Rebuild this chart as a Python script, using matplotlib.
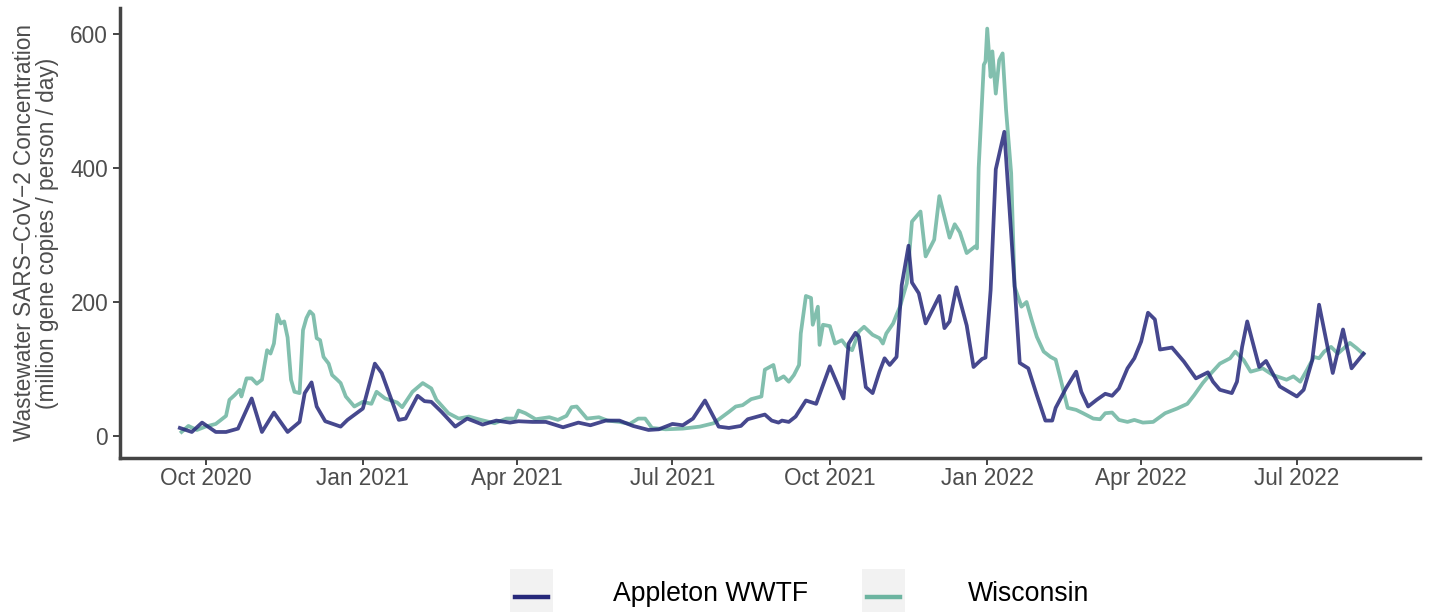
import matplotlib
matplotlib.use("Agg")
import matplotlib.pyplot as plt
import matplotlib.dates as mdates
from matplotlib.patches import Rectangle
from matplotlib.lines import Line2D
import pandas as pd

plt.rcParams['font.family'] = ['Liberation Sans', 'DejaVu Sans']

# Appleton WWTF sampled concentration (million gene copies / person / day)
appleton_dates = [
    "2020-09-16", "2020-09-23", "2020-09-29", "2020-10-07", "2020-10-13", "2020-10-20",
    "2020-10-28", "2020-11-03", "2020-11-10", "2020-11-18", "2020-11-25", "2020-11-28",
    "2020-12-02", "2020-12-05", "2020-12-10", "2020-12-19", "2020-12-23", "2021-01-01",
    "2021-01-08", "2021-01-12", "2021-01-22", "2021-01-26", "2021-02-02", "2021-02-06",
    "2021-02-10", "2021-02-16", "2021-02-24", "2021-03-03", "2021-03-12", "2021-03-20",
    "2021-03-28", "2021-04-02", "2021-04-10", "2021-04-18", "2021-04-28", "2021-05-07",
    "2021-05-14", "2021-05-23", "2021-05-31", "2021-06-08", "2021-06-17", "2021-06-23",
    "2021-07-01", "2021-07-07", "2021-07-13", "2021-07-20", "2021-07-28", "2021-08-03",
    "2021-08-10", "2021-08-14", "2021-08-24", "2021-08-28", "2021-09-01", "2021-09-03",
    "2021-09-07", "2021-09-11", "2021-09-17", "2021-09-23", "2021-10-01", "2021-10-09",
    "2021-10-12", "2021-10-16", "2021-10-18", "2021-10-22", "2021-10-26", "2021-10-30",
    "2021-11-02", "2021-11-05", "2021-11-09", "2021-11-12", "2021-11-16", "2021-11-18",
    "2021-11-22", "2021-11-26", "2021-12-04", "2021-12-07", "2021-12-10", "2021-12-14",
    "2021-12-20", "2021-12-24", "2021-12-29", "2021-12-31", "2022-01-03", "2022-01-06",
    "2022-01-11", "2022-01-15", "2022-01-20", "2022-01-25", "2022-01-30", "2022-02-04",
    "2022-02-08", "2022-02-10", "2022-02-16", "2022-02-22", "2022-02-25", "2022-03-01",
    "2022-03-06", "2022-03-11", "2022-03-15", "2022-03-19", "2022-03-24", "2022-03-28",
    "2022-04-01", "2022-04-05", "2022-04-09", "2022-04-12", "2022-04-19", "2022-04-26",
    "2022-05-03", "2022-05-10", "2022-05-13", "2022-05-17", "2022-05-24", "2022-05-27",
    "2022-05-30", "2022-06-02", "2022-06-09", "2022-06-13", "2022-06-21", "2022-07-01",
    "2022-07-05", "2022-07-10", "2022-07-14", "2022-07-22", "2022-07-28", "2022-08-02",
    "2022-08-09",
]
appleton_values = [
    12, 6, 20, 6, 6, 11,
    56, 6, 35, 6, 21, 64,
    80, 44, 22, 14, 24, 41,
    108, 94, 24, 26, 60, 52,
    51, 36, 14, 26, 17, 23,
    20, 22, 21, 21, 13, 20,
    16, 23, 23, 15, 9, 10,
    18, 16, 26, 53, 14, 12,
    15, 25, 32, 23, 20, 23,
    21, 29, 53, 48, 104, 56,
    138, 154, 148, 73, 64, 96,
    116, 106, 118, 225, 284, 229,
    213, 168, 209, 161, 171, 222,
    165, 103, 115, 117, 218, 398,
    454, 302, 109, 101, 61, 23,
    23, 42, 71, 96, 66, 44,
    54, 63, 60, 71, 101, 116,
    141, 184, 174, 129, 132, 111,
    86, 95, 81, 69, 64, 81,
    133, 171, 103, 112, 74, 59,
    69, 113, 196, 94, 159, 101,
    123,
]

# Statewide Wisconsin concentration
wisconsin_dates = [
    "2020-09-17", "2020-09-21", "2020-09-26", "2020-10-01", "2020-10-07", "2020-10-11",
    "2020-10-13", "2020-10-15", "2020-10-18", "2020-10-21", "2020-10-22", "2020-10-25",
    "2020-10-28", "2020-10-31", "2020-11-03", "2020-11-06", "2020-11-08", "2020-11-10",
    "2020-11-12", "2020-11-14", "2020-11-16", "2020-11-18", "2020-11-20", "2020-11-22",
    "2020-11-25", "2020-11-27", "2020-11-29", "2020-12-01", "2020-12-03", "2020-12-05",
    "2020-12-07", "2020-12-09", "2020-12-12", "2020-12-14", "2020-12-17", "2020-12-19",
    "2020-12-22", "2020-12-27", "2021-01-01", "2021-01-06", "2021-01-09", "2021-01-14",
    "2021-01-21", "2021-01-24", "2021-01-30", "2021-02-05", "2021-02-10", "2021-02-13",
    "2021-02-20", "2021-02-26", "2021-03-04", "2021-03-11", "2021-03-19", "2021-03-26",
    "2021-03-31", "2021-04-02", "2021-04-06", "2021-04-12", "2021-04-20", "2021-04-25",
    "2021-04-30", "2021-05-03", "2021-05-06", "2021-05-12", "2021-05-19", "2021-05-24",
    "2021-05-31", "2021-06-06", "2021-06-11", "2021-06-15", "2021-06-19", "2021-06-27",
    "2021-07-07", "2021-07-17", "2021-07-25", "2021-08-03", "2021-08-07", "2021-08-11",
    "2021-08-16", "2021-08-22", "2021-08-24", "2021-08-29", "2021-08-31", "2021-09-04",
    "2021-09-07", "2021-09-10", "2021-09-13", "2021-09-14", "2021-09-17", "2021-09-20",
    "2021-09-21", "2021-09-24", "2021-09-25", "2021-09-27", "2021-10-01", "2021-10-04",
    "2021-10-08", "2021-10-11", "2021-10-14", "2021-10-18", "2021-10-21", "2021-10-26",
    "2021-10-30", "2021-11-01", "2021-11-03", "2021-11-07", "2021-11-09", "2021-11-11",
    "2021-11-15", "2021-11-18", "2021-11-23", "2021-11-26", "2021-12-01", "2021-12-04",
    "2021-12-07", "2021-12-10", "2021-12-13", "2021-12-16", "2021-12-20", "2021-12-25",
    "2021-12-26", "2021-12-27", "2021-12-30", "2021-12-31", "2022-01-01", "2022-01-03",
    "2022-01-04", "2022-01-06", "2022-01-08", "2022-01-10", "2022-01-12", "2022-01-15",
    "2022-01-17", "2022-01-21", "2022-01-24", "2022-01-27", "2022-01-30", "2022-02-03",
    "2022-02-07", "2022-02-10", "2022-02-13", "2022-02-17", "2022-02-22", "2022-02-26",
    "2022-03-04", "2022-03-08", "2022-03-11", "2022-03-15", "2022-03-19", "2022-03-24",
    "2022-03-28", "2022-04-02", "2022-04-08", "2022-04-15", "2022-04-22", "2022-04-28",
    "2022-05-02", "2022-05-07", "2022-05-12", "2022-05-17", "2022-05-23", "2022-05-26",
    "2022-05-31", "2022-06-04", "2022-06-11", "2022-06-17", "2022-06-25", "2022-06-29",
    "2022-07-03", "2022-07-07", "2022-07-11", "2022-07-14", "2022-07-17", "2022-07-21",
    "2022-07-25", "2022-08-01", "2022-08-05", "2022-08-09",
]
wisconsin_values = [
    6, 15, 9, 14, 18, 26,
    30, 54, 61, 69, 59, 86,
    86, 78, 84, 128, 123, 138,
    181, 168, 171, 147, 84, 66,
    64, 158, 176, 186, 181, 146,
    143, 118, 108, 91, 84, 79,
    59, 44, 51, 48, 66, 56,
    50, 43, 66, 79, 71, 54,
    34, 26, 29, 24, 19, 26,
    26, 38, 34, 25, 28, 24,
    30, 43, 44, 26, 28, 23,
    21, 18, 26, 26, 12, 10,
    11, 14, 19, 36, 44, 46,
    55, 59, 99, 106, 83, 89,
    81, 91, 106, 153, 209, 206,
    166, 193, 136, 166, 164, 138,
    143, 133, 128, 156, 163, 151,
    146, 138, 153, 168, 181, 193,
    228, 320, 335, 268, 293, 358,
    327, 296, 316, 304, 273, 283,
    280, 400, 554, 559, 608, 536,
    574, 511, 561, 571, 487, 392,
    223, 193, 200, 173, 148, 126,
    118, 114, 84, 42, 39, 34,
    26, 25, 34, 35, 24, 21,
    24, 20, 21, 34, 41, 48,
    61, 79, 94, 108, 116, 126,
    113, 96, 101, 91, 84, 89,
    81, 99, 118, 116, 126, 133,
    123, 139, 131, 122,
]

series_labels = ["Appleton WWTF", "Wisconsin"]
series_colors = ["#26287a", "#6cb4a0"]

fig = plt.figure(figsize=(14.3, 6.13), dpi=100)
ax = fig.add_axes([0.0839, 0.2529, 0.9091, 0.7341])

ax.plot(pd.to_datetime(wisconsin_dates), wisconsin_values, color=series_colors[1],
        lw=2.7, alpha=0.85, solid_joinstyle="round", zorder=2)
ax.plot(pd.to_datetime(appleton_dates), appleton_values, color=series_colors[0],
        lw=2.7, alpha=0.85, solid_joinstyle="round", zorder=3)

ax.set_xlim(pd.Timestamp("2020-08-12"), pd.Timestamp("2022-09-11"))
ax.set_ylim(-32.8, 638.8)
ax.set_yticks([0, 200, 400, 600])
ax.xaxis.set_major_locator(mdates.MonthLocator(bymonth=[1, 4, 7, 10]))
ax.xaxis.set_major_formatter(mdates.DateFormatter("%b %Y"))

for side in ("top", "right"):
    ax.spines[side].set_visible(False)
for side in ("left", "bottom"):
    ax.spines[side].set_color("#444444")
    ax.spines[side].set_linewidth(2.5)
ax.tick_params(axis="both", colors="#444444", width=1.4, length=5,
               labelsize=16.3, labelcolor="#4d4d4d", pad=3.5)
ax.tick_params(axis="x", pad=1.5)

ax.set_ylabel("Wastewater SARS\u2212CoV\u22122 Concentration\n(million gene copies / person / day)",
              fontsize=16.3, color="#4d4d4d", labelpad=8, linespacing=1.02)

# Legend drawn below the plot area with grey key backgrounds
W, H = 1430, 613
keys = [(510, 613), (862, 968)]
for (kx, tx), label, color in zip(keys, series_labels, series_colors):
    fig.patches.append(Rectangle((kx / W, 1 - 612 / H), 43 / W, 43 / H,
                                 transform=fig.transFigure, facecolor="#f2f2f2",
                                 edgecolor="none"))
    fig.lines.append(Line2D([(kx + 5) / W, (kx + 38) / W], [1 - 597 / H, 1 - 597 / H],
                            transform=fig.transFigure, color=color, lw=3.2))
    fig.text(tx / W, 1 - 594 / H, label, fontsize=19.2, color="black",
             ha="left", va="center")

fig.savefig("out.png", dpi=100)
